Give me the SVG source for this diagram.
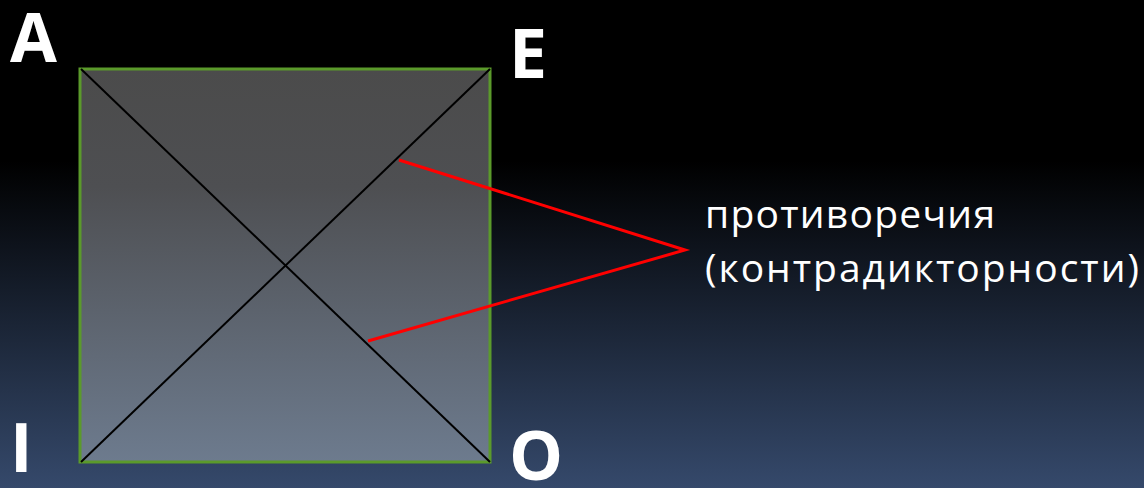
<svg xmlns="http://www.w3.org/2000/svg" width="1144" height="488" viewBox="0 0 1144 488">
<defs>
<linearGradient id="bg" x1="0" y1="0" x2="0" y2="1">
<stop offset="0" stop-color="#000000"/>
<stop offset="0.33" stop-color="#000000"/>
<stop offset="1" stop-color="#35496b"/>
</linearGradient>
<linearGradient id="sq" x1="0" y1="0" x2="0" y2="1">
<stop offset="0" stop-color="#4b4b4b"/>
<stop offset="0.3" stop-color="#4e4f52"/>
<stop offset="1" stop-color="#6d7b8e"/>
</linearGradient>
<style>
.lbl{font-family:"Open Sans","Noto Sans",sans-serif;font-weight:bold;fill:#ffffff;font-size:68px}
.txt{font-family:"Open Sans","Noto Sans",sans-serif;fill:#ffffff;font-size:39px}
.red{stroke:#ff0000;stroke-width:3;fill:none}
.diag{stroke:#000000;stroke-width:2;fill:none}
</style>
</defs>
<rect width="1144" height="488" fill="url(#bg)"/>
<g id="square">
<rect x="80" y="69" width="410" height="393" fill="url(#sq)" stroke="#5b9a2b" stroke-width="3"/>
</g>
<g id="connectors">
<line class="diag" x1="81" y1="69" x2="490" y2="462"/>
<line class="diag" x1="490" y1="69" x2="81" y2="462"/>
<polyline class="red" points="399,160 685,250 368,341"/>
</g>
<g id="node-A"><text class="lbl" x="10" y="62">A</text></g>
<g id="node-E"><text class="lbl" x="509" y="78">E</text></g>
<g id="node-I"><text class="lbl" x="10" y="472">I</text></g>
<g id="node-O"><text class="lbl" x="509" y="480">O</text></g>
<g id="label">
<text class="txt" x="705" y="228" textLength="290" lengthAdjust="spacing">противоречия</text>
<text class="txt" x="705" y="282" textLength="434" lengthAdjust="spacing">(контрадикторности)</text>
</g>
</svg>
